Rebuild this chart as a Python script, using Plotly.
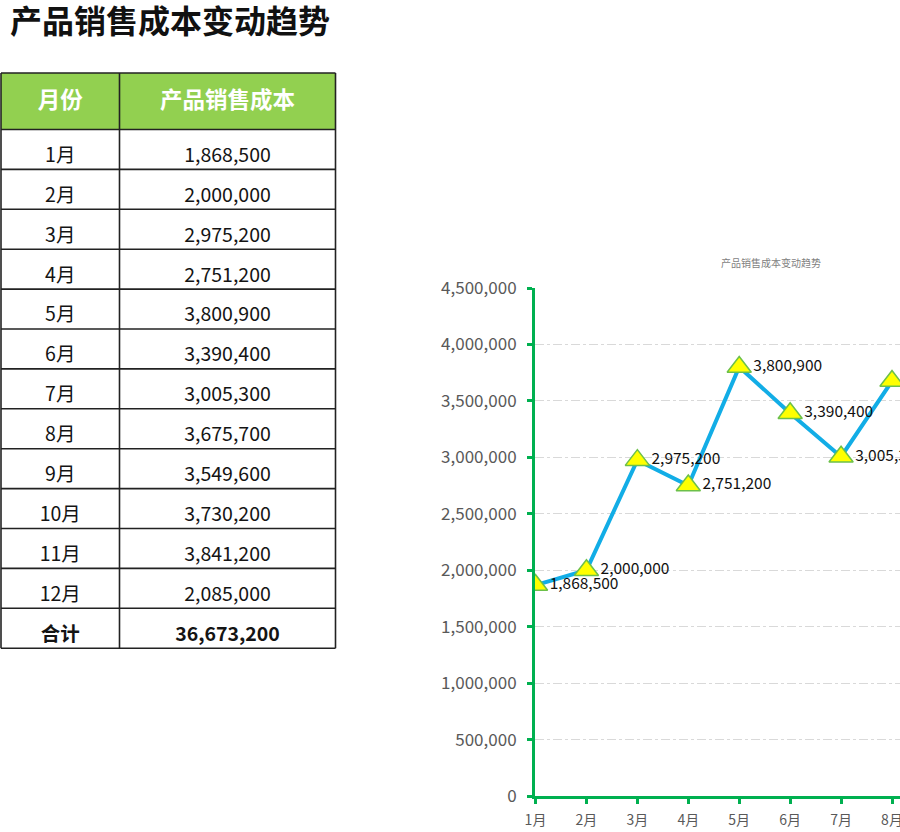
import plotly.graph_objects as go

months = ["1月", "2月", "3月", "4月", "5月", "6月", "7月", "8月", "9月", "10月", "11月", "12月"]
costs = [1868500, 2000000, 2975200, 2751200, 3800900, 3390400, 3005300, 3675700, 3549600, 3730200, 3841200, 2085000]
page_title = "产品销售成本变动趋势"
chart_title = "产品销售成本变动趋势"
header = ["月份", "产品销售成本"]
total_label = "合计"

W, H = 900, 832
FONT = "Noto Sans CJK SC, Microsoft YaHei, sans-serif"

total = sum(costs)
col_month = months + [f"<b>{total_label}</b>"]
col_cost = [f"{v:,}" for v in costs] + [f"<b>{total:,}</b>"]

# ---- table geometry (pixel units on a hidden cartesian subplot) ----
T_TOP, HDR_BOT, ROW_H = 73.0, 129.5, 39.9
X_L, X_MID, X_R = 1.0, 119.5, 335.5
n_rows = len(col_month)
row_tops = [HDR_BOT + i * ROW_H for i in range(n_rows)]
T_BOT = HDR_BOT + n_rows * ROW_H
text_y = [t + 27.5 for t in row_tops]
col1_x = (X_L + X_MID) / 2
col2_x = (X_MID + X_R) / 2

fig = go.Figure()

# header texts
fig.add_trace(go.Scatter(
    x=[col1_x, col2_x], y=[(T_TOP + HDR_BOT) / 2 + 1.5] * 2,
    mode="text", text=[f"<b>{h}</b>" for h in header],
    textposition="middle center",
    textfont=dict(family=FONT, size=22.5, color="white"),
    xaxis="x2", yaxis="y2", showlegend=False, hoverinfo="skip",
))
# body texts
fig.add_trace(go.Scatter(
    x=[col1_x] * n_rows, y=text_y, mode="text", text=col_month,
    textposition="middle center",
    textfont=dict(family=FONT, size=19.5, color="#141414"),
    xaxis="x2", yaxis="y2", showlegend=False, hoverinfo="skip",
))
fig.add_trace(go.Scatter(
    x=[col2_x] * n_rows, y=text_y, mode="text", text=col_cost,
    textposition="middle center",
    textfont=dict(family=FONT, size=19.5, color="#141414"),
    xaxis="x2", yaxis="y2", showlegend=False, hoverinfo="skip",
))

shapes = [dict(type="rect", xref="x2", yref="y2", x0=X_L, x1=X_R, y0=T_TOP, y1=HDR_BOT,
               fillcolor="#92d050", line=dict(width=0), layer="below")]
for yy in [T_TOP] + row_tops + [T_BOT]:
    shapes.append(dict(type="line", xref="x2", yref="y2", x0=X_L, x1=X_R, y0=yy, y1=yy,
                       line=dict(color="#222222", width=1.6)))
for xx in [X_L, X_MID, X_R]:
    shapes.append(dict(type="line", xref="x2", yref="y2", x0=xx, x1=xx, y0=T_TOP, y1=T_BOT,
                       line=dict(color="#222222", width=1.6)))

# ---- line chart ----
fig.add_trace(go.Scatter(
    x=months, y=costs,
    mode="lines+markers+text",
    line=dict(color="#12ade6", width=4),
    marker=dict(symbol="triangle-up", size=21, color="#ffff00",
                line=dict(color="#6cc04a", width=1.5)),
    text=[f"{v:,}" for v in costs],
    textposition="middle right",
    textfont=dict(family=FONT, size=15.5, color="#111111"),
    cliponaxis=True,
    xaxis="x", yaxis="y",
    showlegend=False,
))

fig.update_layout(
    width=W, height=H,
    margin=dict(l=0, r=0, t=0, b=0, autoexpand=False),
    paper_bgcolor="white", plot_bgcolor="white",
    font=dict(family=FONT),
    shapes=shapes,
    xaxis=dict(
        domain=[535 / W, 1.0],
        type="category",
        range=[-0.01, 365 / 51.0],
        automargin=False,
        showline=True, linecolor="#00b050", linewidth=3,
        ticks="outside", tickcolor="#00b050", tickwidth=3, ticklen=5,
        ticklabelstandoff=4,
        tickfont=dict(family=FONT, size=14, color="#595959"),
        showgrid=False, zeroline=False,
    ),
    yaxis=dict(
        domain=[(H - 796) / H, (H - 288) / H],
        range=[0, 4500000],
        dtick=500000,
        tickformat=",",
        automargin=False,
        showline=True, linecolor="#00b050", linewidth=3,
        ticks="outside", tickcolor="#00b050", tickwidth=3, ticklen=5,
        ticklabelstandoff=7,
        tickfont=dict(family=FONT, size=17, color="#595959"),
        showgrid=True, gridcolor="#d9d9d9", gridwidth=1, griddash="dashdot",
        zeroline=False,
    ),
    xaxis2=dict(domain=[0, 340 / W], range=[0, 340], visible=False, fixedrange=True),
    yaxis2=dict(domain=[(H - 660) / H, (H - 70) / H], range=[660, 70], visible=False,
                fixedrange=True, anchor="x2"),
    annotations=[
        dict(text=f"<b>{page_title}</b>", x=8 / W, y=(H - 19) / H, xref="paper", yref="paper",
             xanchor="left", yanchor="middle", showarrow=False,
             font=dict(family=FONT, size=32, color="#111111")),
        dict(text=chart_title, x=771 / W, y=(H - 262) / H, xref="paper", yref="paper",
             xanchor="center", yanchor="middle", showarrow=False,
             font=dict(family=FONT, size=10, color="#7f7f7f")),
    ],
)
fig.update_xaxes(anchor="y2", selector=dict(domain=[0, 340 / W]))

fig.write_html("out.html")
